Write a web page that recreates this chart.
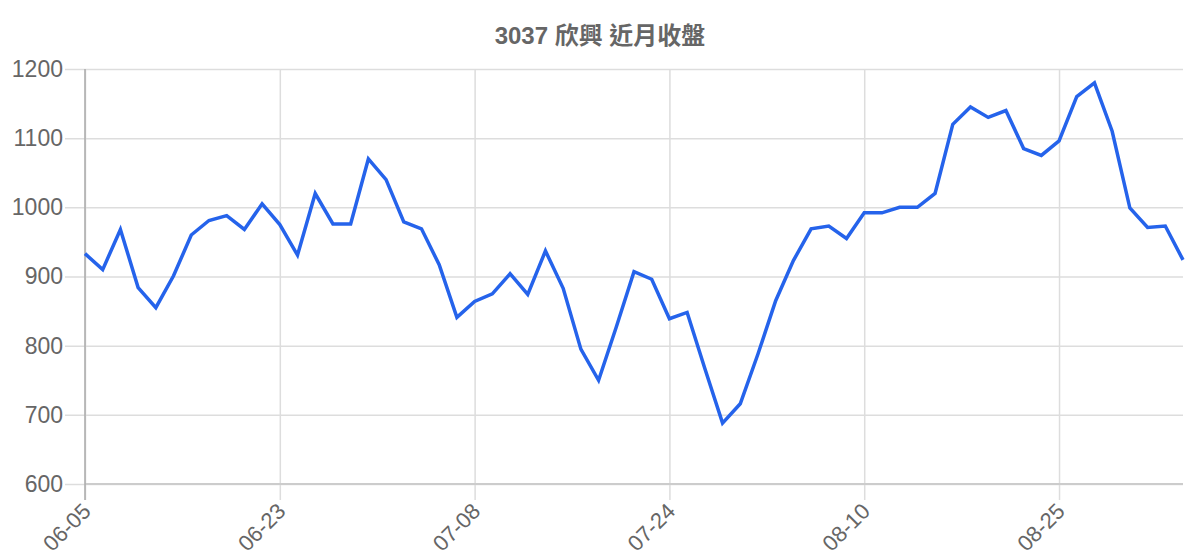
<!DOCTYPE html>
<html>
<head>
<meta charset="utf-8">
<script src="https://cdn.jsdelivr.net/npm/d3@7"></script>
<style>
  body { margin: 0; background: #fff; }
  text { font-family: "Liberation Sans", Arial, "Noto Sans CJK TC", sans-serif; }
</style>
</head>
<body>
<div id="chart"></div>
<script>
const title = '3037 欣興 近月收盤'

const dates = [
  '06-05', '06-08', '06-09', '06-10', '06-11', '06-12', '06-15', '06-16', '06-17', '06-18', '06-19',
  '06-23', '06-24', '06-25', '06-26', '06-29', '06-30', '07-01', '07-02', '07-03', '07-06', '07-07',
  '07-08', '07-09', '07-10', '07-13', '07-14', '07-15', '07-16', '07-17', '07-20', '07-21', '07-22',
  '07-24', '07-27', '07-28', '07-29', '07-30', '07-31', '08-03', '08-04', '08-05', '08-06', '08-07',
  '08-10', '08-11', '08-12', '08-13', '08-14', '08-17', '08-18', '08-19', '08-20', '08-21', '08-24',
  '08-25', '08-26', '08-27', '08-28', '08-31', '09-01', '09-02', '09-03'
]

const closes = [
  933, 910, 968, 884, 855, 901, 960, 981, 988, 968, 1005,
  975, 931, 1020, 976, 976, 1070, 1040, 979, 969, 917, 841,
  864, 875, 904, 874, 937, 883, 795, 750, 827, 907, 896,
  839, 848, 767, 688, 716, 788, 865, 923, 969, 973, 955,
  992, 992, 1000, 1000, 1020, 1120, 1145, 1130, 1140, 1085, 1075,
  1096, 1160, 1180, 1110, 999, 971, 973, 924
]

const yTicks = [600, 700, 800, 900, 1000, 1100, 1200]
const tickEvery = 11

let margin = { top: 69, left: 85, right: 17, bottom: 76 }
let width = 1200 - margin.left - margin.right
let height = 560 - margin.top - margin.bottom

const svg = d3
  .select('#chart')
  .append('svg')
  .attr('width', 1200)
  .attr('height', 560)

svg
  .append('text')
  .attr('x', 600)
  .attr('y', 44)
  .attr('text-anchor', 'middle')
  .attr('font-size', 24)
  .attr('font-weight', 'bold')
  .attr('fill', '#666')
  .text(title)

const g = svg
  .append('g')
  .attr('transform', 'translate(' + margin.left + ',' + margin.top + ')')

const xPositionScale = d3
  .scalePoint()
  .domain(d3.range(dates.length))
  .range([0, width])

const yPositionScale = d3
  .scaleLinear()
  .domain([600, 1200])
  .range([height, 0])

// horizontal grid, reaching a little left of the axis
const yAxis = d3
  .axisLeft(yPositionScale)
  .tickValues(yTicks)
  .tickFormat(d3.format('d'))
  .tickSize(-(width + 20))
  .tickPadding(2)

g.append('g')
  .attr('class', 'y-axis')
  .attr('transform', 'translate(-20,0)')
  .call(yAxis)
  .call(ax => ax.select('.domain').remove())
  .call(ax => ax.selectAll('line').attr('stroke', '#ddd').attr('stroke-width', 1.5))
  .call(ax => ax.selectAll('text').attr('font-size', 23).attr('fill', '#666'))

const tickIdx = d3.range(0, dates.length, tickEvery)

const xAxis = d3
  .axisBottom(xPositionScale)
  .tickValues(tickIdx)
  .tickFormat(i => dates[i])
  .tickSize(-(height + 16))
  .tickPadding(0)

g.append('g')
  .attr('class', 'x-axis')
  .attr('transform', 'translate(0,' + (height + 16) + ')')
  .call(xAxis)
  .call(ax => ax.select('.domain').remove())
  .call(ax => ax.selectAll('line').attr('stroke', '#ddd').attr('stroke-width', 1.5))
  .call(ax =>
    ax
      .selectAll('text')
      .attr('font-size', 22)
      .attr('fill', '#666')
      .attr('text-anchor', 'end')
      .attr('y', 0)
      .attr('dy', '0.75em')
      .attr('transform', 'translate(-5,1) rotate(-45)')
  )

// axis lines
g.append('line')
  .attr('x1', 0)
  .attr('x2', width)
  .attr('y1', height)
  .attr('y2', height)
  .attr('stroke', '#ccc')
  .attr('stroke-width', 2)

g.append('line')
  .attr('x1', 0)
  .attr('x2', 0)
  .attr('y1', 0)
  .attr('y2', height + 16)
  .attr('stroke', '#aaa')
  .attr('stroke-width', 1.5)

const line = d3
  .line()
  .x((d, i) => xPositionScale(i))
  .y(d => yPositionScale(d))

g.append('path')
  .datum(closes)
  .attr('d', line)
  .attr('fill', 'none')
  .attr('stroke', '#2563eb')
  .attr('stroke-width', 3.5)
  .attr('stroke-linejoin', 'miter')
</script>
</body>
</html>
